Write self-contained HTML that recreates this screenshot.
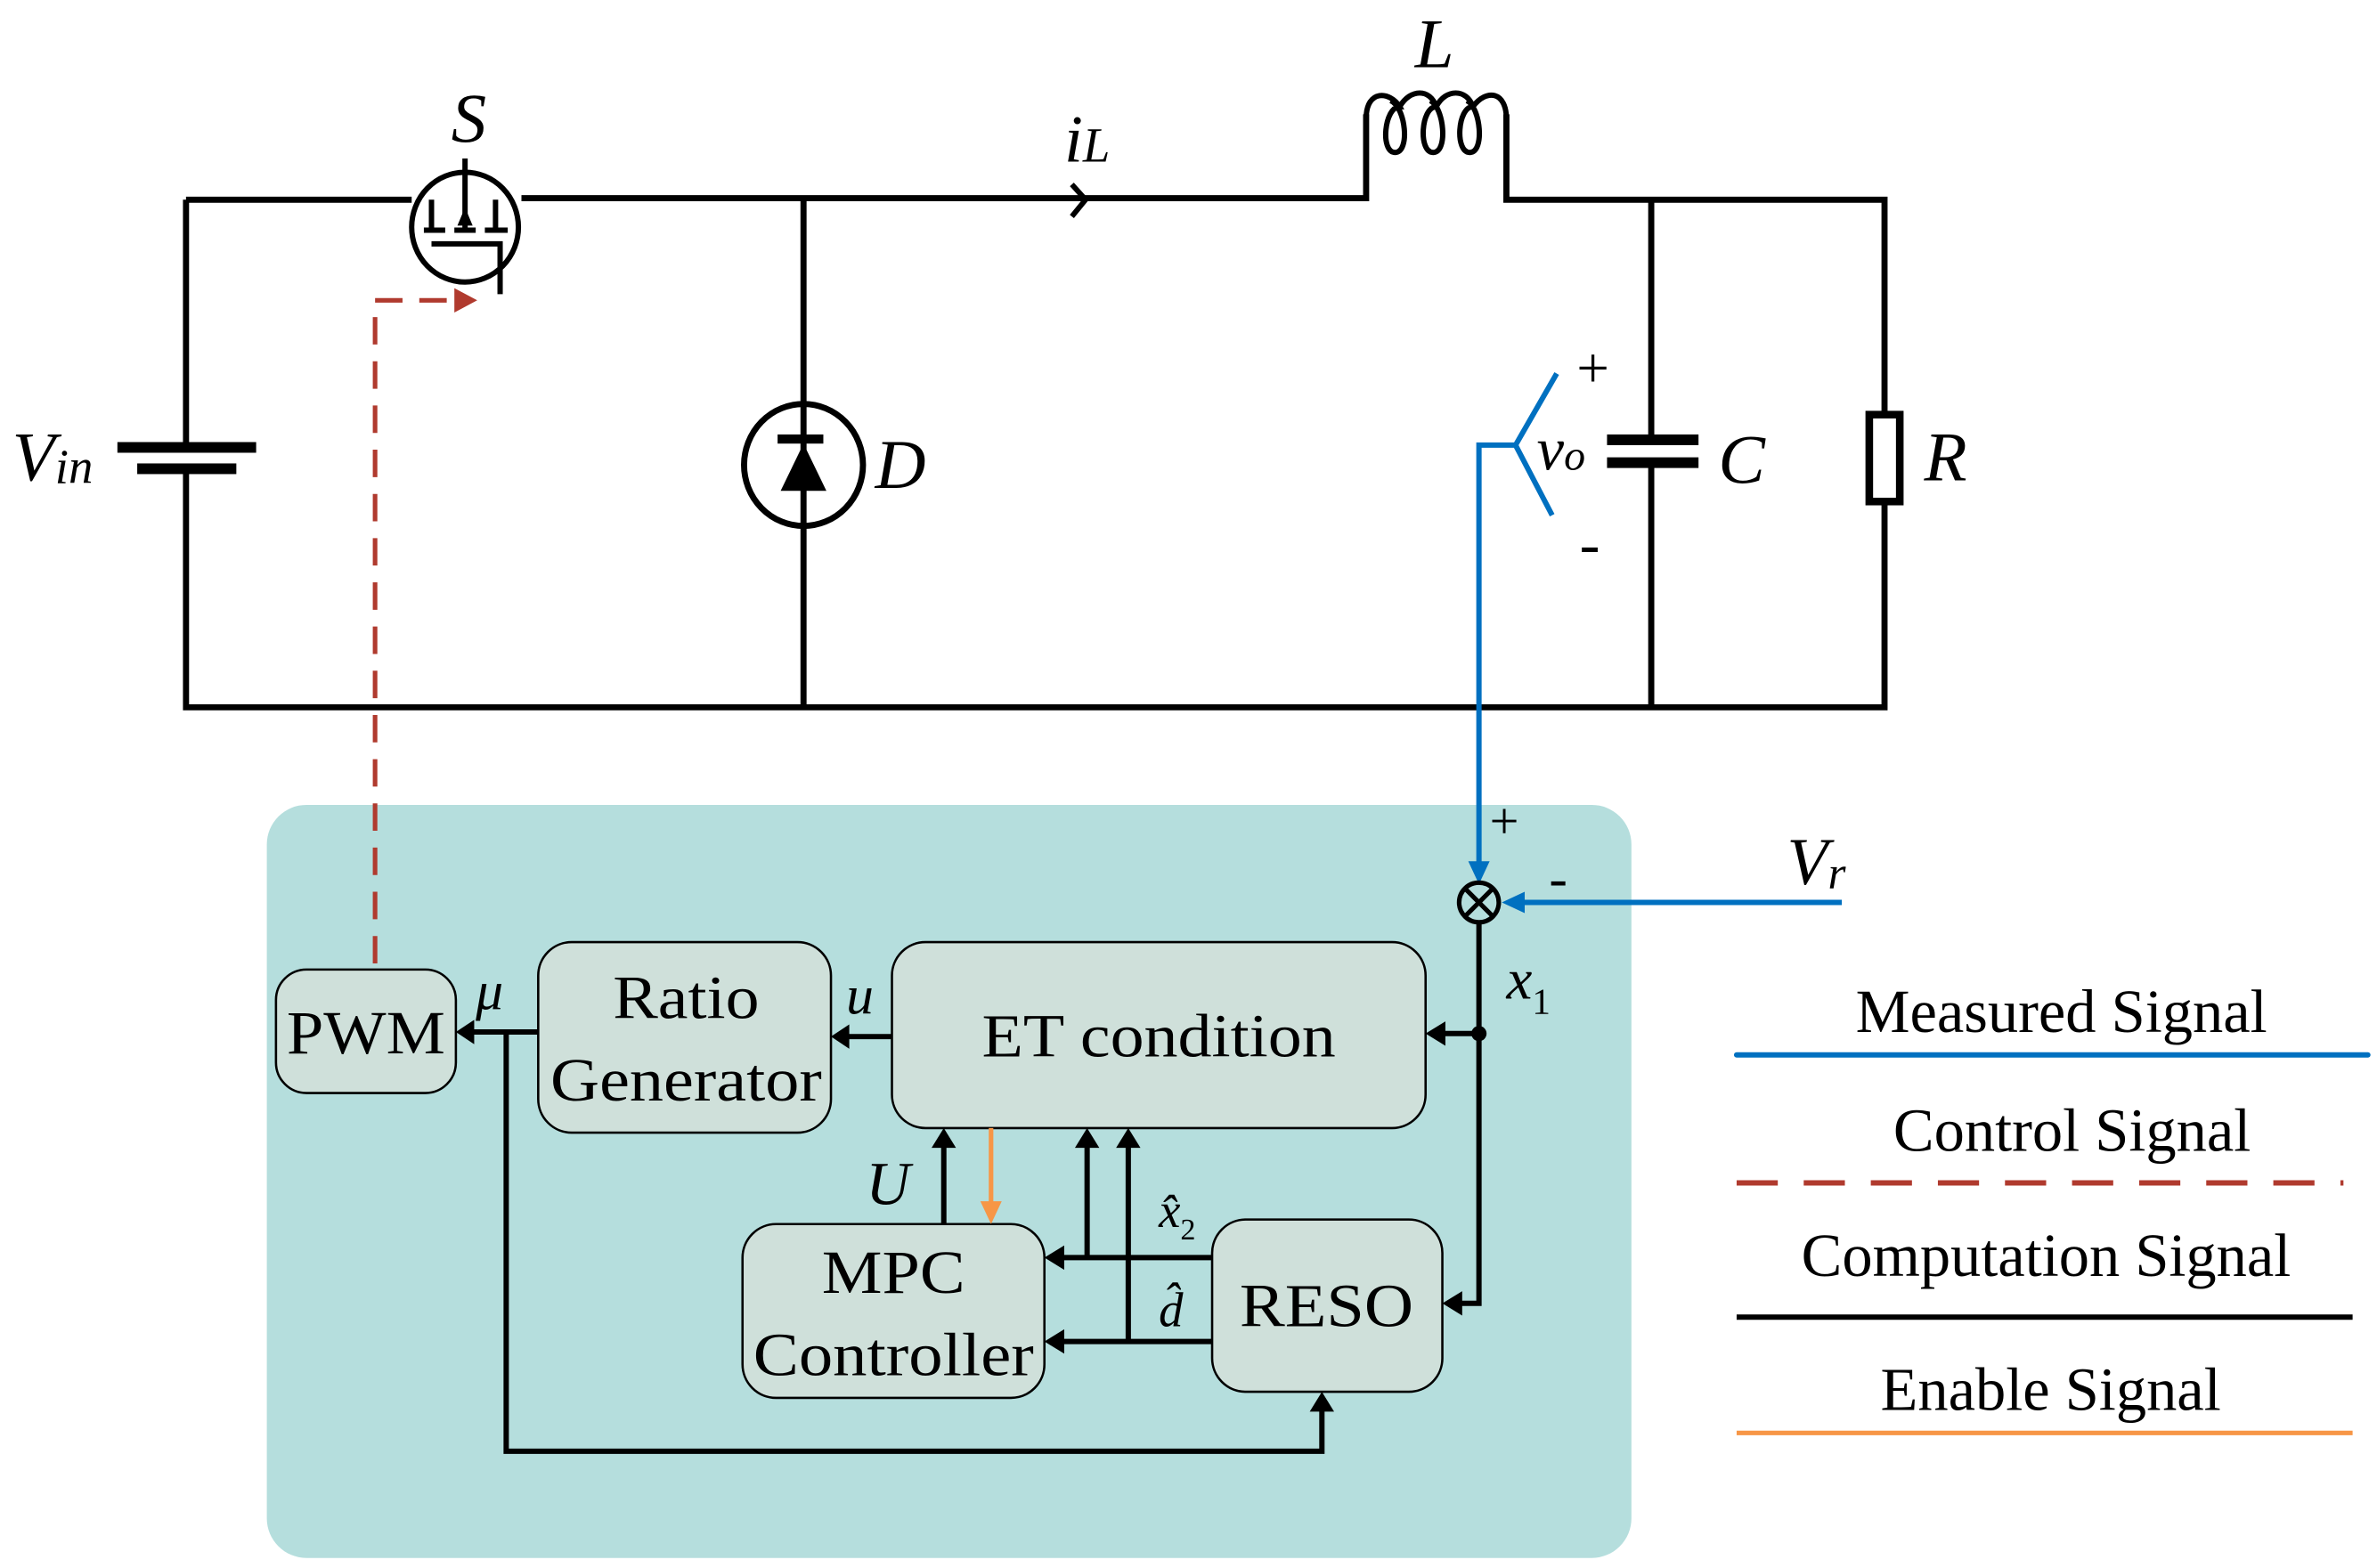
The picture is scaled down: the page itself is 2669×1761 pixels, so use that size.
<!DOCTYPE html>
<html><head><meta charset="utf-8"><style>html,body{margin:0;padding:0;background:#fff}svg{display:block}</style></head>
<body>
<svg width="2669" height="1761" viewBox="0 0 1559 1028.6" preserveAspectRatio="none" xmlns="http://www.w3.org/2000/svg" font-family="Liberation Serif, serif">
<rect x="175" y="528" width="895" height="494" rx="26" fill="#b5dedd"/>
<g stroke="#000" stroke-width="4" fill="none">
<path d="M122,131 H270 M342,130 H896 V75 M988,75 V131 H1236 V270 M1236,330 V464 H122 V307 M122,293 V131"/>
<ellipse cx="305" cy="149" rx="35" ry="36" stroke-width="3.5"/>
<path d="M305,104 V150 M283,131 V150 M325,131 V150 M278,151 H292 M298,151 H312 M318,151 H333 M283,160 H328 V193" stroke-width="3.5"/>
<path d="M527,131 V464"/>
<ellipse cx="527" cy="305" rx="39" ry="40"/>
<path d="M896,78 C896,58 912,60 918,70 C908,70 905,100 915,100 C925,100 922,70 912,66 M918,70 C925,58 938,58 942,70 C932,70 930,100 940,100 C950,100 947,70 938,66 M942,70 C948,58 962,58 966,70 C956,70 954,100 964,100 C974,100 971,70 962,66 M966,70 C975,58 988,60 988,78" stroke-width="3.5"/>
<path d="M1083,131 V290 M1083,306 V464"/>
<path d="M703,121 L712,131 L703,142" stroke-width="3.5"/>
</g>
<rect x="77" y="290" width="91" height="7" fill="#000"/>
<rect x="90" y="304" width="65" height="7" fill="#000"/>
<rect x="510" y="285" width="30" height="6" fill="#000"/>
<path d="M527,291 L512,322 L542,322 Z" fill="#000"/>
<rect x="1054" y="285" width="60" height="7" fill="#000"/>
<rect x="1054" y="300" width="60" height="7" fill="#000"/>
<rect x="1226" y="272" width="20" height="57" fill="#fff" stroke="#000" stroke-width="5"/>
<path d="M305,136 L300,148 L310,148 Z" fill="#000"/>
<g font-style="italic" font-size="46" fill="#000">
<text x="296" y="93">S</text>
<text x="8" y="315">V<tspan font-size="32" dy="2">in</tspan></text>
<text x="574" y="320">D</text>
<text x="698" y="106" font-size="44">i<tspan font-size="32">L</tspan></text>
<text x="928" y="44">L</text>
<text x="1127" y="317">C</text>
<text x="1262" y="315">R</text>
<text x="1008" y="308" font-size="40">v<tspan font-size="28">o</tspan></text>
</g>
<text x="1034" y="254" font-size="38">+</text>
<text x="1036" y="370" font-size="40">-</text>
<g stroke="#0070c0" stroke-width="3.5" fill="none">
<path d="M1021,245 L994,292 L1018,338 M994,292 H970 V568"/>
<path d="M1208,592 H996"/>
</g>
<path d="M963,565 L977,565 L970,580 Z" fill="#0070c0"/>
<path d="M985,592 L1000,585 L1000,599 Z" fill="#0070c0"/>
<circle cx="970" cy="592" r="13" fill="none" stroke="#000" stroke-width="3"/>
<path d="M961,583 L979,601 M979,583 L961,601" stroke="#000" stroke-width="3"/>
<text x="977" y="550" font-size="34">+</text>
<text x="1016" y="588" font-size="36">-</text>
<text x="1172" y="580" font-size="44" font-style="italic">V<tspan font-size="30" dy="3">r</tspan></text>
<path d="M246,690 V197 H300" stroke="#b03a2e" stroke-width="3" stroke-dasharray="18,11" fill="none"/>
<path d="M298,189 L313,197 L298,205 Z" fill="#b03a2e"/>
<g fill="#cfe0da" stroke="#000" stroke-width="1.5">
<rect x="181" y="636" width="118" height="81" rx="20"/>
<rect x="353" y="618" width="192" height="125" rx="22"/>
<rect x="585" y="618" width="350" height="122" rx="22"/>
<rect x="487" y="803" width="198" height="114" rx="22"/>
<rect x="795" y="800" width="151" height="113" rx="22"/>
</g>
<g font-size="40" fill="#000" text-anchor="middle">
<text x="240" y="691" textLength="104" lengthAdjust="spacingAndGlyphs">PWM</text>
<text x="450" y="668" textLength="96" lengthAdjust="spacingAndGlyphs">Ratio</text>
<text x="450" y="722" textLength="178" lengthAdjust="spacingAndGlyphs">Generator</text>
<text x="760" y="693" textLength="232" lengthAdjust="spacingAndGlyphs">ET condition</text>
<text x="586" y="848" textLength="94" lengthAdjust="spacingAndGlyphs">MPC</text>
<text x="586" y="902" textLength="184" lengthAdjust="spacingAndGlyphs">Controller</text>
<text x="870" y="870" textLength="114" lengthAdjust="spacingAndGlyphs">RESO</text>
</g>
<g stroke="#000" stroke-width="3.5" fill="none">
<path d="M585,680 H556"/>
<path d="M353,677 H310"/>
<path d="M332,677 V952 H867 V925"/>
<path d="M970,605 V855 H958"/>
<path d="M970,678 H947"/>
<path d="M619,803 V752"/>
<path d="M795,825 H697 M713,825 V752"/>
<path d="M795,880 H697 M740,880 V752"/>
</g>
<g fill="#000">
<path d="M545,680 L557,672 L557,688 Z"/>
<path d="M299,677 L311,669 L311,685 Z"/>
<path d="M867,913 L859,926 L875,926 Z"/>
<path d="M946,855 L959,847 L959,863 Z"/>
<path d="M935,678 L948,670 L948,686 Z"/>
<circle cx="970" cy="678" r="5"/>
<path d="M619,740 L611,753 L627,753 Z"/>
<path d="M713,740 L705,753 L721,753 Z"/>
<path d="M740,740 L732,753 L748,753 Z"/>
<path d="M685,825 L698,817 L698,833 Z"/>
<path d="M685,880 L698,872 L698,888 Z"/>
</g>
<path d="M650,740 V790" stroke="#f79646" stroke-width="3"/>
<path d="M643,788 L657,788 L650,803 Z" fill="#f79646"/>
<g font-style="italic" fill="#000">
<text x="312" y="662" font-size="36">μ</text>
<text x="555" y="665" font-size="36">u</text>
<text x="568" y="790" font-size="40">U</text>
<text x="760" y="805" font-size="32">x̂<tspan font-size="20" dy="8" font-style="normal">2</tspan></text>
<text x="760" y="870" font-size="32">d̂</text>
<text x="988" y="655" font-size="38">x<tspan font-size="24" dy="10" font-style="normal">1</tspan></text>
</g>
<g font-size="40" fill="#000" text-anchor="middle">
<text x="1352" y="677">Measured Signal</text>
<text x="1359" y="755">Control Signal</text>
<text x="1342" y="837">Computation Signal</text>
<text x="1345" y="925">Enable Signal</text>
</g>
<path d="M1139,692 H1553" stroke="#0070c0" stroke-width="3.5" stroke-linecap="round"/>
<path d="M1139,776 H1537" stroke="#b03a2e" stroke-width="3.5" stroke-dasharray="27,17"/>
<path d="M1139,864 H1543" stroke="#000" stroke-width="3.5"/>
<path d="M1139,940 H1543" stroke="#f79646" stroke-width="3"/>
</svg>
</body></html>
